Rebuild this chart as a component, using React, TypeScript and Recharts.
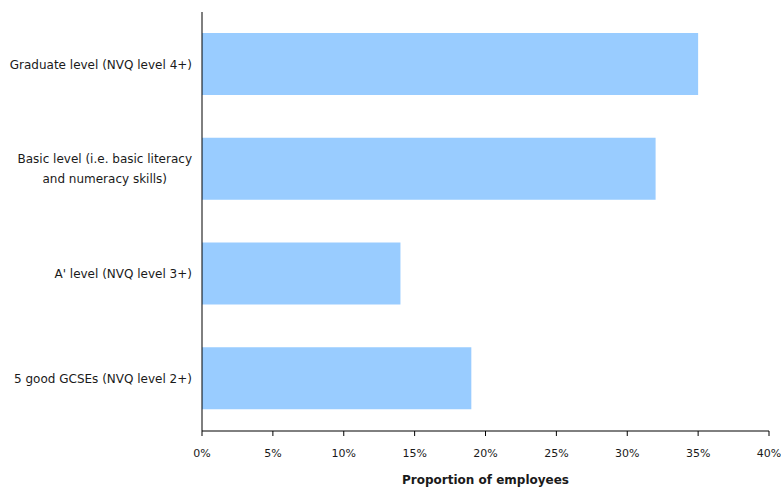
import { BarChart, Bar, XAxis, YAxis } from 'recharts';

// Qualification levels (top to bottom) and share of employees at each
const categories = [
  'Graduate level (NVQ level 4+)',
  'Basic level (i.e. basic literacy\nand numeracy skills)',
  "A' level (NVQ level 3+)",
  '5 good GCSEs (NVQ level 2+)',
];
const proportions = [35, 32, 14, 19];
const xTicks = [0, 5, 10, 15, 20, 25, 30, 35, 40];

const FONT = '"DejaVu Sans", Verdana, sans-serif';
const TEXT = '#1a1a1a';

const data = categories.map((name, i) => ({ name, value: proportions[i] }));

let ctx: CanvasRenderingContext2D | null = null;
function textWidth(s: string, size: number) {
  if (!ctx) ctx = document.createElement('canvas').getContext('2d');
  if (!ctx) return s.length * size * 0.55;
  ctx.font = `${size}px ${FONT}`;
  return ctx.measureText(s).width;
}

// multi-line labels: block is right aligned, lines centred within it
function CategoryTick(props: any) {
  const { x, y, payload } = props;
  const lines: string[] = String(payload.value).split('\n');
  const size = 12;
  const widest = Math.max(...lines.map((l) => textWidth(l, size)));
  const right = x - 2;
  const cx = right - widest / 2;
  const lh = 20;
  const startY = y - ((lines.length - 1) * lh) / 2;
  return (
    <text fontFamily={FONT} fontSize={size} fill={TEXT} textAnchor="middle">
      {lines.map((l, i) => (
        <tspan key={i} x={cx} y={startY + i * lh} dy="0.35em">
          {l}
        </tspan>
      ))}
    </text>
  );
}

export default function App() {
  return (
    <div style={{ position: 'absolute', left: 0, top: 0, background: '#fff' }}>
      <BarChart
        width={781}
        height={488}
        data={data}
        layout="vertical"
        margin={{ top: 12, right: 12, left: 0, bottom: 0 }}
      >
        <XAxis
          type="number"
          domain={[0, 40]}
          ticks={xTicks}
          tickFormatter={(v) => `${v}%`}
          height={57}
          tickSize={5}
          tickMargin={13}
          axisLine={{ stroke: '#000' }}
          tickLine={{ stroke: '#000' }}
          tick={{ fontFamily: FONT, fontSize: 11, fill: TEXT }}
          label={{
            value: 'Proportion of employees',
            position: 'insideBottom',
            offset: 4,
            style: { fontFamily: FONT, fontSize: 12, fontWeight: 'bold', fill: TEXT },
          }}
        />
        <YAxis
          type="category"
          dataKey="name"
          width={202}
          axisLine={{ stroke: '#000' }}
          tickLine={false}
          tick={<CategoryTick />}
          interval={0}
        />
        <Bar dataKey="value" fill="#99ccff" barSize={62} isAnimationActive={false} />
      </BarChart>
    </div>
  );
}
